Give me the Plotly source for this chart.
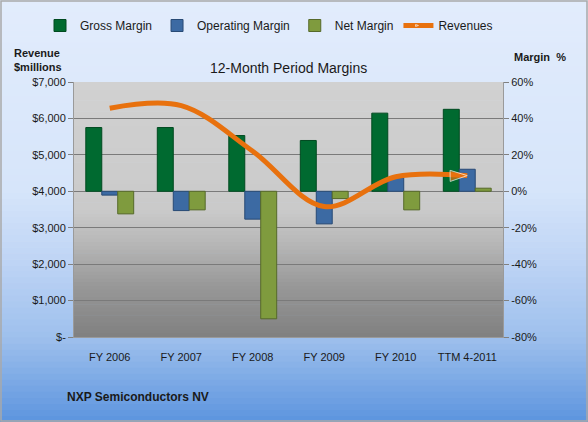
import plotly.graph_objects as go

categories = ["FY 2006", "FY 2007", "FY 2008", "FY 2009", "FY 2010", "TTM 4-2011"]
gross_margin = [35.0, 35.0, 30.6, 27.9, 42.9, 45.0]
operating_margin = [-2.1, -10.6, -15.3, -17.9, 7.5, 12.1]
net_margin = [-12.4, -10.2, -70.0, -4.0, -10.2, 1.7]
revenues = [6280, 6350, 5100, 3580, 4400, 4430]

rev_tickvals = [0, 1000, 2000, 3000, 4000, 5000, 6000, 7000]
rev_ticktext = ["$-", "$1,000", "$2,000", "$3,000", "$4,000", "$5,000", "$6,000", "$7,000"]
pct_tickvals = [-80, -60, -40, -20, 0, 20, 40, 60]
pct_ticktext = ["-80%", "-60%", "-40%", "-20%", "0%", "20%", "40%", "60%"]

W, H = 588, 422
ML, MR, MT, MB = 74, 85, 82, 85
PW, PH = W - ML - MR, H - MT - MB
FONT = "Liberation Sans"


def px2paper_x(px):
    return (px - ML) / PW


def px2paper_y(py):
    return (H - MB - py) / PH


def interp(stops, t):
    for (t0, c0), (t1, c1) in zip(stops, stops[1:]):
        if t0 <= t <= t1:
            f = 0 if t1 == t0 else (t - t0) / (t1 - t0)
            c = [round(a + (b - a) * f) for a, b in zip(c0, c1)]
            return "rgb(%d,%d,%d)" % tuple(c)
    c = stops[-1][1]
    return "rgb(%d,%d,%d)" % tuple(c)


shapes = []
# page background gradient
page_stops = [(0.0, (226, 236, 252)), (0.45, (214, 229, 250)), (0.62, (190, 212, 245)),
              (0.8, (158, 192, 237)), (1.0, (92, 148, 222))]
N = 70
for i in range(N):
    y0 = H * i / N
    y1 = H * (i + 1) / N + 0.6
    shapes.append(dict(type="rect", xref="paper", yref="paper", layer="below",
                       x0=px2paper_x(0), x1=px2paper_x(W),
                       y0=px2paper_y(y1), y1=px2paper_y(y0),
                       fillcolor=interp(page_stops, (i + 0.5) / N), line=dict(width=0)))
# plot area gradient
plot_stops = [(0.0, (209, 209, 209)), (0.5, (202, 202, 202)), (0.62, (185, 185, 185)),
              (0.8, (152, 152, 152)), (1.0, (128, 128, 128))]
for i in range(N):
    y0 = MT + PH * i / N
    y1 = MT + PH * (i + 1) / N + 0.6
    shapes.append(dict(type="rect", xref="paper", yref="paper", layer="below",
                       x0=0, x1=1, y0=px2paper_y(min(y1, H - MB)), y1=px2paper_y(y0),
                       fillcolor=interp(plot_stops, (i + 0.5) / N), line=dict(width=0)))
# outer border
shapes.append(dict(type="rect", xref="paper", yref="paper", layer="above",
                   x0=px2paper_x(1), x1=px2paper_x(W - 1), y0=px2paper_y(H - 1), y1=px2paper_y(1),
                   line=dict(color="#a9a9a9", width=1.5)))

fig = go.Figure()
bar_specs = [
    ("Gross Margin", gross_margin, "#006a30", "#004a20"),
    ("Operating Margin", operating_margin, "#3c6aa3", "#284a75"),
    ("Net Margin", net_margin, "#7f9b3e", "#56692a"),
]
for name, vals, col, lcol in bar_specs:
    fig.add_trace(go.Bar(x=categories, y=vals, name=name, marker=dict(color=col, line=dict(color=lcol, width=1)),
                         yaxis="y"))

sizes = [0] * (len(revenues) - 1) + [18]
fig.add_trace(go.Scatter(x=categories, y=revenues, name="Revenues", mode="lines+markers",
                         line=dict(color="#e8710e", width=5, shape="spline", smoothing=1.0),
                         marker=dict(symbol="arrow", angleref="previous", size=sizes, color="#e8710e"),
                         yaxis="y2"))

fig.update_layout(
    width=W, height=H,
    margin=dict(l=ML, r=MR, t=MT, b=MB, pad=0, autoexpand=False),
    paper_bgcolor="#e2ecfc", plot_bgcolor="rgba(0,0,0,0)",
    font=dict(family=FONT, size=11, color="#1a1a1a"),
    barmode="group", bargap=0.33, bargroupgap=0,
    showlegend=True,
    legend=dict(orientation="h", x=px2paper_x(40), xanchor="left", y=px2paper_y(11), yanchor="top",
                font=dict(size=12, family=FONT), bgcolor="rgba(0,0,0,0)", itemwidth=30,
                traceorder="normal"),
    shapes=shapes,
    xaxis=dict(showgrid=False, ticks="", tickfont=dict(size=11), showline=True,
               linecolor="#9a9a9a", linewidth=1, ticklabelstandoff=10),
    yaxis=dict(side="right", range=[-80, 60], tickvals=pct_tickvals, ticktext=pct_ticktext,
               showgrid=False, zeroline=False, ticks="outside", ticklen=5, tickcolor="#808080",
               showline=True, linecolor="#9a9a9a", tickfont=dict(size=11)),
    yaxis2=dict(side="left", overlaying="y", range=[0, 7000], tickvals=rev_tickvals, ticktext=rev_ticktext,
                showgrid=True, gridcolor="#7a7a7a", gridwidth=1, zeroline=False,
                ticks="outside", ticklen=5, tickcolor="#808080", showline=True, linecolor="#9a9a9a",
                tickfont=dict(size=11)),
    annotations=[
        dict(text="12-Month Period Margins", xref="paper", yref="paper", x=0.5, y=px2paper_y(68),
             xanchor="center", yanchor="middle", showarrow=False, font=dict(size=14, family=FONT)),
        dict(text="<b>Revenue<br>$millions</b>", xref="paper", yref="paper", x=px2paper_x(12),
             y=px2paper_y(60), xanchor="left", yanchor="middle", align="left", showarrow=False,
             font=dict(size=11, family=FONT)),
        dict(text="<b>Margin  %</b>", xref="paper", yref="paper", x=px2paper_x(512),
             y=px2paper_y(57), xanchor="left", yanchor="middle", showarrow=False,
             font=dict(size=11, family=FONT)),
        dict(text="<b>NXP Semiconductors NV</b>", xref="paper", yref="paper", x=px2paper_x(65),
             y=px2paper_y(397), xanchor="left", yanchor="middle", showarrow=False,
             font=dict(size=12, family=FONT)),
    ],
)

fig.write_html("out.html")
